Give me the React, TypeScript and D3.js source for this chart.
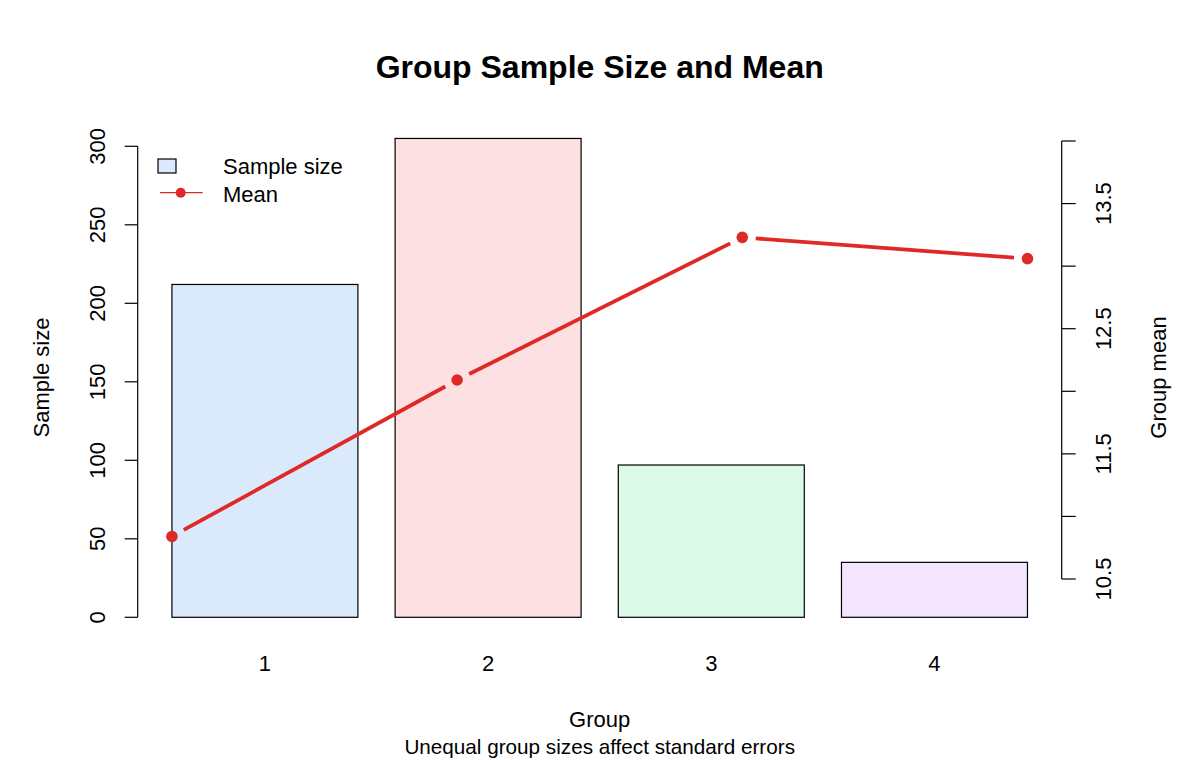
import React from "react";
import * as d3 from "d3";

// group data
const groups = ["1", "2", "3", "4"];
const sampleSizes = [212, 305, 97, 35];
const groupMeans = [10.84, 12.09, 13.23, 13.06];
const barFills = ["#dbe9fd", "#fde0e1", "#ddf9e8", "#f3e5fe"];
const leftTicks = [0, 50, 100, 150, 200, 250, 300];
const rightTicks = [10.5, 11, 11.5, 12, 12.5, 13, 13.5, 14];
const rightTickLabels = [10.5, 11.5, 12.5, 13.5];

const FONT = "'Liberation Sans', Arial, Helvetica, sans-serif";
const RED = "#de2a27";

const W = 1200;
const H = 760;
const plotLeft = 137.7;
const plotRight = 1061.7;

// barplot layout: width 1, space 0.2, padded 4% like base graphics
const barW = 1;
const space = 0.2;
const barLeft = groups.map((_, i) => space + i * (barW + space));
const barSpan: [number, number] = [barLeft[0], barLeft[barLeft.length - 1] + barW];
const pad = (barSpan[1] - barSpan[0]) * 0.04;

const xBar = d3
  .scaleLinear()
  .domain([barSpan[0] - pad, barSpan[1] + pad])
  .range([plotLeft, plotRight]);

// overlay of means uses index 1..n on its own axis
const xLine = d3
  .scaleLinear()
  .domain([1 - 0.04 * (groups.length - 1), groups.length + 0.04 * (groups.length - 1)])
  .range([plotLeft, plotRight]);

const yLeft = d3.scaleLinear().domain([0, 300]).range([617.3, 146.3]);
const yRight = d3.scaleLinear().domain([10.5, 14]).range([579, 141]);

const GAP = 13.5;

export default function App() {
  const pts = groupMeans.map((m, i) => [xLine(i + 1), yRight(m)] as [number, number]);

  // type "b": segments stop short of each point
  const segments = pts.slice(1).map((p, i) => {
    const a = pts[i];
    const dx = p[0] - a[0];
    const dy = p[1] - a[1];
    const len = Math.hypot(dx, dy);
    const ux = dx / len;
    const uy = dy / len;
    return [a[0] + ux * GAP, a[1] + uy * GAP, p[0] - ux * GAP, p[1] - uy * GAP];
  });

  return (
    <svg
      width={W}
      height={H}
      style={{ position: "absolute", left: 0, top: 0, background: "#fff" }}
      fontFamily={FONT}
    >
      <rect x={0} y={0} width={W} height={H} fill="#fff" />

      {/* title */}
      <text x={599.7} y={78} textAnchor="middle" fontSize={32} fontWeight="bold">
        Group Sample Size and Mean
      </text>

      {/* bars */}
      {sampleSizes.map((v, i) => (
        <rect
          key={groups[i]}
          x={xBar(barLeft[i])}
          y={yLeft(v)}
          width={xBar(barLeft[i] + barW) - xBar(barLeft[i])}
          height={yLeft(0) - yLeft(v)}
          fill={barFills[i]}
          stroke="#000"
          strokeWidth={1.2}
        />
      ))}

      {/* left axis */}
      <g stroke="#000" strokeWidth={1.2}>
        <line x1={plotLeft} x2={plotLeft} y1={yLeft(0)} y2={yLeft(300)} />
        {leftTicks.map((t) => (
          <line key={t} x1={plotLeft} x2={plotLeft - 13} y1={yLeft(t)} y2={yLeft(t)} />
        ))}
      </g>
      {leftTicks.map((t) => (
        <text
          key={t}
          transform={`translate(105,${yLeft(t)}) rotate(-90)`}
          textAnchor="middle"
          fontSize={22}
        >
          {t}
        </text>
      ))}
      <text transform="translate(49,377.5) rotate(-90)" textAnchor="middle" fontSize={22}>
        Sample size
      </text>

      {/* right axis */}
      <g stroke="#000" strokeWidth={1.2}>
        <line x1={plotRight} x2={plotRight} y1={yRight(10.5)} y2={yRight(14)} />
        {rightTicks.map((t) => (
          <line key={t} x1={plotRight} x2={plotRight + 14} y1={yRight(t)} y2={yRight(t)} />
        ))}
      </g>
      {rightTickLabels.map((t) => (
        <text
          key={t}
          transform={`translate(1111,${yRight(t)}) rotate(-90)`}
          textAnchor="middle"
          fontSize={22}
        >
          {t.toFixed(1)}
        </text>
      ))}
      <text transform="translate(1166,377.5) rotate(-90)" textAnchor="middle" fontSize={22}>
        Group mean
      </text>

      {/* group labels */}
      {groups.map((g, i) => (
        <text
          key={g}
          x={xBar(barLeft[i] + barW / 2)}
          y={671}
          textAnchor="middle"
          fontSize={22}
        >
          {g}
        </text>
      ))}
      <text x={599.7} y={727} textAnchor="middle" fontSize={22}>
        Group
      </text>
      <text x={599.7} y={754} textAnchor="middle" fontSize={20.7}>
        Unequal group sizes affect standard errors
      </text>

      {/* mean line */}
      {segments.map((s, i) => (
        <line
          key={i}
          x1={s[0]}
          y1={s[1]}
          x2={s[2]}
          y2={s[3]}
          stroke={RED}
          strokeWidth={3.8}
        />
      ))}
      {pts.map((p, i) => (
        <circle key={i} cx={p[0]} cy={p[1]} r={5.8} fill={RED} />
      ))}

      {/* legend */}
      <rect x={158} y={159} width={18} height={14} fill={barFills[0]} stroke="#000" strokeWidth={1.2} />
      <text x={223} y={174.3} fontSize={22}>
        Sample size
      </text>
      <line x1={160} x2={202.7} y1={192.7} y2={192.7} stroke={RED} strokeWidth={1.2} />
      <circle cx={180.7} cy={192.7} r={5} fill={RED} />
      <text x={223} y={201.7} fontSize={22}>
        Mean
      </text>
    </svg>
  );
}
